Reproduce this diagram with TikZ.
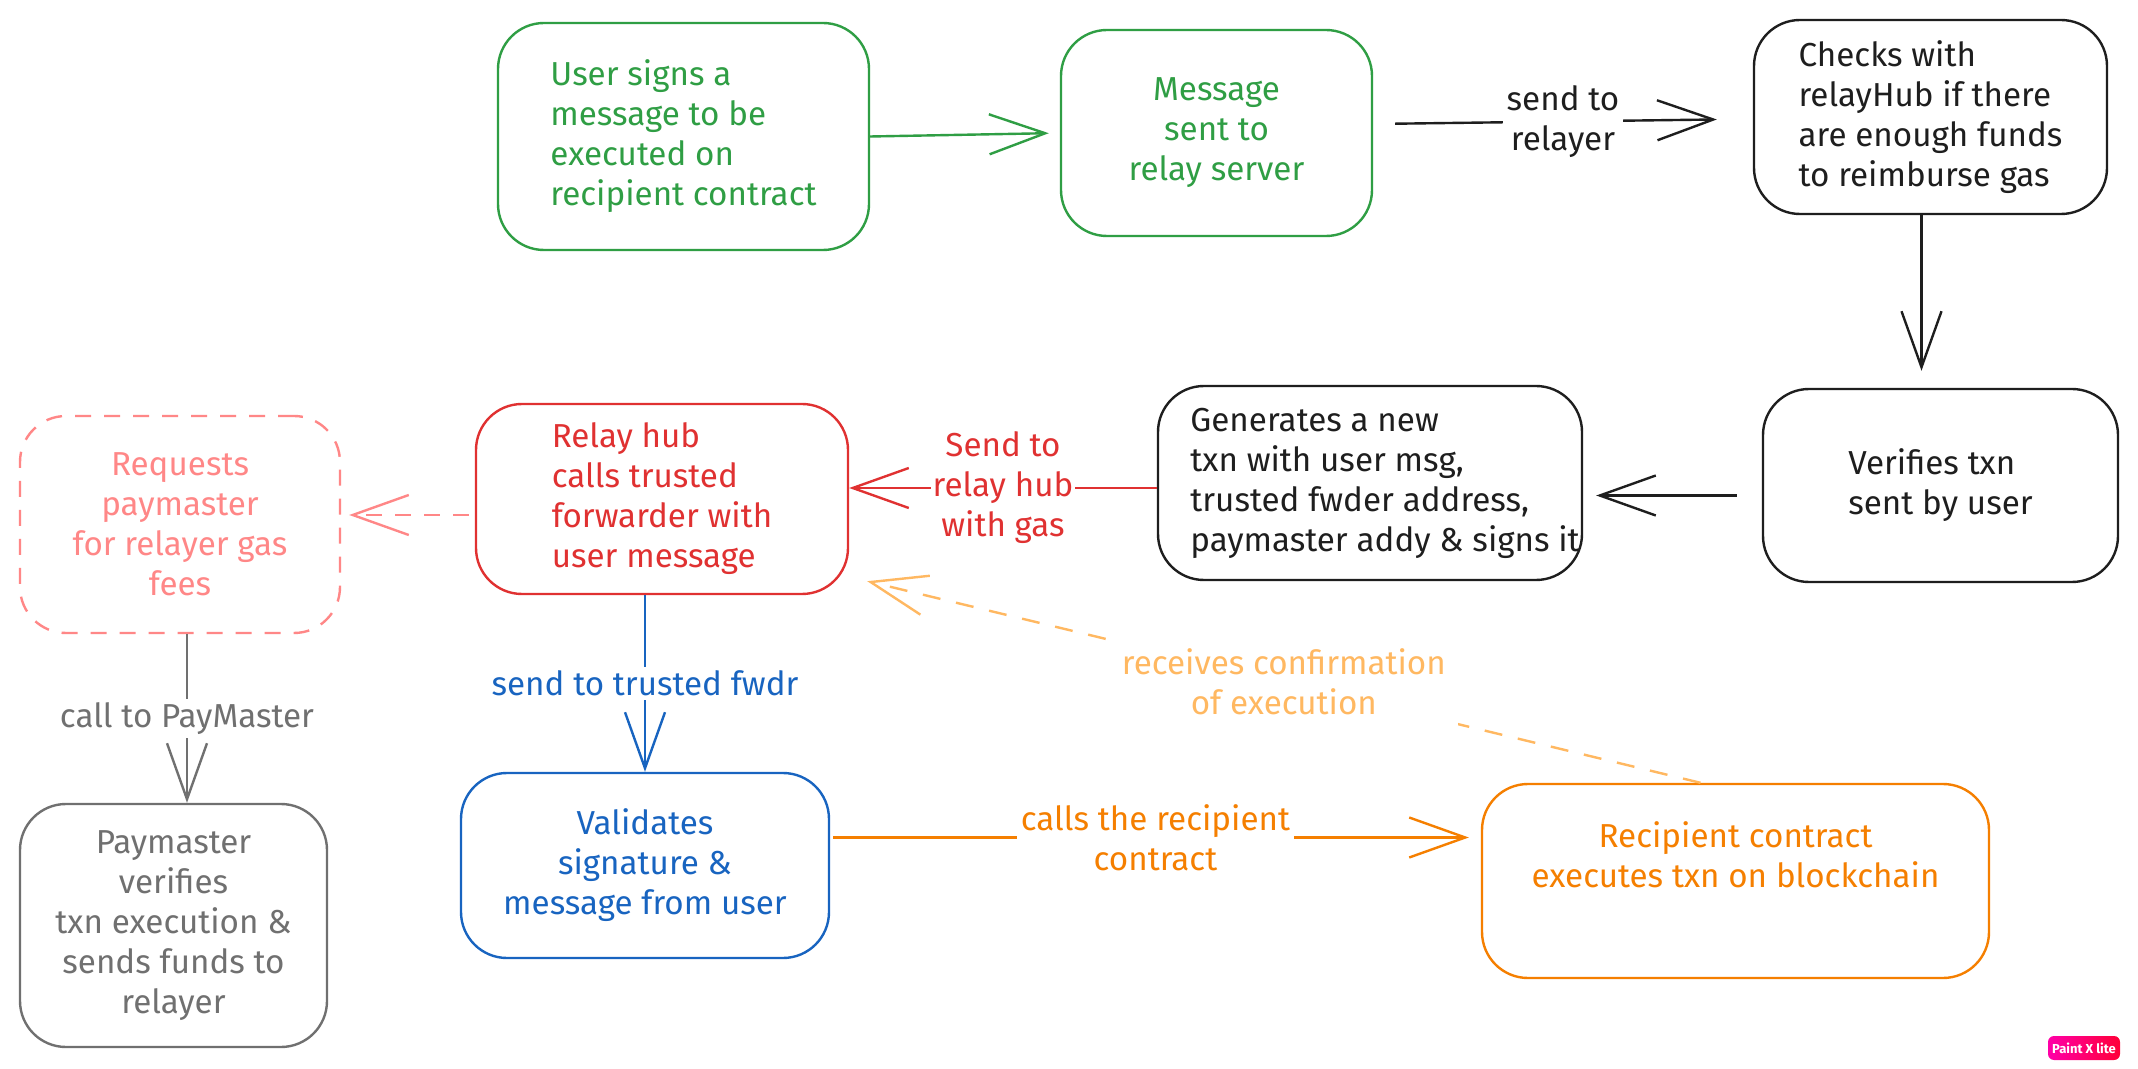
\documentclass[tikz,border=0pt]{standalone}
\usepackage{fontspec}
\setmainfont{Fira Sans}
\usetikzlibrary{arrows.meta,calc}
\definecolor{cgreen}{HTML}{2F9E44}
\definecolor{cblack}{HTML}{1E1E1E}
\definecolor{cred}{HTML}{E03131}
\definecolor{cpink}{HTML}{FF8787}
\definecolor{cgray}{HTML}{707070}
\definecolor{cblue}{HTML}{1864C0}
\definecolor{corange}{HTML}{F57F00}
\definecolor{clorange}{HTML}{FFB861}
\definecolor{bmag}{HTML}{FF00A8}
\definecolor{bred}{HTML}{FF0038}
\begin{document}
\begin{tikzpicture}[x=0.5pt,y=-0.5pt,
  box/.style={draw, rounded corners=23pt, line width=1.2pt, inner sep=0pt,
    font=\fontsize{16.6}{20}\selectfont},
  lbl/.style={fill=white, inner sep=2pt, font=\fontsize{16.6}{20}\selectfont, align=center},
  conn/.style={line width=1.2pt, -{Straight Barb[length=28pt,width=20pt,line width=1.2pt]}},
  dashpat/.style={dash pattern=on 8pt off 6.5pt},
]
\useasboundingbox[fill=white] (0,0) rectangle (2138,1069);

% boxes
\node[box, draw=cgreen, text=cgreen, align=left, minimum width=185.5pt, minimum height=113.5pt] (user) at (683.5,136.5)
  {User signs a\\message to be\\executed on\\recipient contract};
\node[box, draw=cgreen, text=cgreen, align=center, minimum width=155.5pt, minimum height=103pt] (msg) at (1216.5,133)
  {Message\\sent to\\relay server};
\node[box, draw=cblack, text=cblack, align=left, minimum width=176.5pt, minimum height=97pt] (checks) at (1930.5,117)
  {Checks with\\relayHub if there\\are enough funds\\to reimburse gas};
\node[box, draw=cblack, text=cblack, align=left, minimum width=177.5pt, minimum height=96.5pt] (verif) at (1940.5,485.5)
  {Verifies txn\\sent by user};
\node[box, draw=cblack, text=cblack, align=left, minimum width=212pt, minimum height=97pt] (gen) at (1370,483)
  {Generates a new\\txn with user msg,\\trusted fwder address,\\paymaster addy \& signs\rlap{ it}};
\node[box, draw=cred, text=cred, align=left, minimum width=186pt, minimum height=95pt] (relay) at (662,499)
  {Relay hub\\calls trusted\\forwarder with\\user message};
\node[box, draw=cpink, text=cpink, dashpat, align=center, minimum width=160pt, minimum height=108.5pt] (pay) at (180,524.5)
  {Requests\\paymaster\\for relayer gas\\fees};
\node[box, draw=cgray, text=cgray, align=center, minimum width=153.5pt, minimum height=121.5pt] (paym) at (173.5,925.5)
  {Paymaster\\verifies\\txn execution \&\\sends funds to\\relayer};
\node[box, draw=cblue, text=cblue, align=center, minimum width=184pt, minimum height=92.5pt] (valid) at (645,865.5)
  {Validates\\signature \&\\message from user};
\node[box, draw=corange, text=corange, align=center, minimum width=253.5pt, minimum height=97pt] (recip) at (1735.5,881)
  {Recipient contract\\executes txn on blockchain\\\strut};

% badge
\node[rounded corners=3pt, left color=bmag, right color=bred, text=white, inner sep=0pt,
  minimum width=36pt, minimum height=12pt, font=\bfseries\fontsize{6.5}{7}\selectfont] (badge) at (2084,1048) {Paint X lite};

% connectors
\draw[conn, cgreen, shorten >=5.5pt] (user.east) -- (msg.west);
\draw[conn, cblack, shorten <=11pt, shorten >=18pt] ([yshift=4.5pt]msg.east) --
  node[lbl]{send to\\relayer} ([yshift=-1pt]checks.west);
\draw[conn, cblack, shorten >=8.5pt] ([xshift=-4.5pt]checks.south) -- ([xshift=-4.5pt]checks.south |- verif.north);
\draw[conn, cblack, shorten <=12.5pt, shorten >=6.5pt] ([yshift=-5pt]verif.west) -- ([yshift=-5pt]verif.west -| gen.east);
\draw[conn, cred] ([yshift=-2.5pt]gen.west) --
  node[lbl, inner sep=1pt]{Send to\\relay hub\\with gas} ([yshift=-2.5pt]gen.west -| relay.east);
\draw[conn, cpink, dashpat, shorten <=3pt, shorten >=4pt] ([yshift=-8pt]relay.west) -- ([yshift=-8pt]relay.west -| pay.east);
\draw[conn, cgray] ([xshift=3.5pt]pay.south) --
  node[lbl]{call to PayMaster} ([xshift=3.5pt]pay.south |- paym.north);
\draw[conn, cblue] (relay.south -| valid.north) --
  node[lbl]{send to trusted fwdr} (valid.north);
\draw[conn, corange, shorten <=1.5pt, shorten >=6pt] ([yshift=14pt]valid.east) --
  node[lbl]{calls the recipient\\contract} ([yshift=14pt]valid.east -| recip.west);
\draw[conn, clorange, dash pattern=on 9pt off 8pt] ([xshift=-17.5pt]recip.north) --
  node[lbl, inner sep=6pt]{receives confirmation\\of execution} ([xshift=9pt,yshift=7pt]relay.south east);
\end{tikzpicture}
\end{document}
